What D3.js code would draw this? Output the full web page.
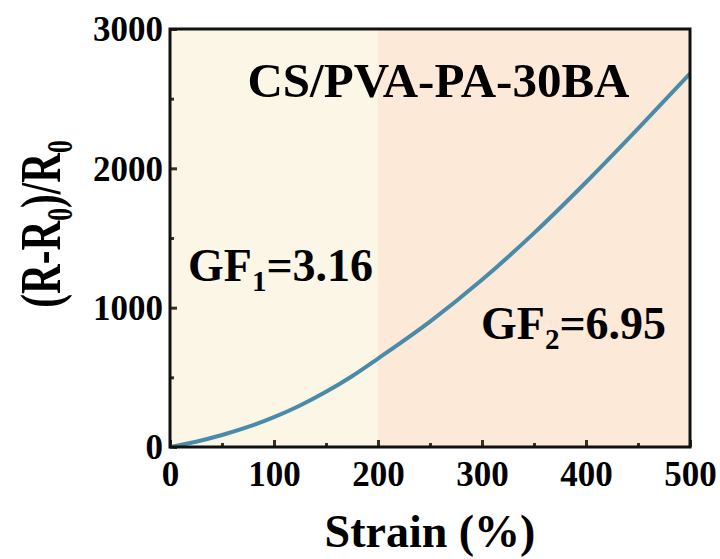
<!DOCTYPE html>
<html>
<head>
<meta charset="utf-8">
<script src="https://cdn.jsdelivr.net/npm/d3@7"></script>
<style>
  body { margin: 0; background: #fff; }
  text { font-family: "Liberation Serif", "Times New Roman", serif; font-weight: bold; fill: #000; }
</style>
</head>
<body>
<div class="canvas"></div>
<script>
// strain (%) vs relative resistance change
const strain = [0, 25, 50, 75, 100, 125, 150, 175, 200, 250, 300, 350, 400, 450, 500];
const resist = [0, 38, 86, 144, 214, 298, 396, 508, 635, 900, 1200, 1535, 1900, 2285, 2680];
const xTicks = [0, 100, 200, 300, 400, 500];
const yTicks = [0, 1000, 2000, 3000];
const regions = [[0, 200], [200, 500]];
const regionColors = ['#fcf6e6', '#fde9d8'];

const W = 720, H = 559;
const m = { t: 29, r: 30, b: 112, l: 170 };

const svg = d3.select('.canvas').append('svg')
  .attr('width', W)
  .attr('height', H);

const x = d3.scaleLinear().domain([0, 500]).range([m.l, W - m.r]);
const y = d3.scaleLinear().domain([0, 3000]).range([H - m.b, m.t]);

//shaded regions
svg.append('g').selectAll('rect')
  .data(regions)
  .enter()
  .append('rect')
  .attr('x', d => x(d[0]))
  .attr('y', y(3000))
  .attr('width', d => x(d[1]) - x(d[0]))
  .attr('height', y(0) - y(3000))
  .style('fill', (d, i) => regionColors[i]);

//ticks, inward
const tickCol = '#3b2f22';
const xAxis = svg.append('g')
  .attr('transform', `translate(0,${y(0)})`)
  .call(d3.axisBottom(x).tickValues(xTicks).tickSize(-7).tickPadding(14).tickFormat(d3.format('d')));
const xMinor = svg.append('g')
  .attr('transform', `translate(0,${y(0)})`)
  .call(d3.axisBottom(x).tickValues([50, 150, 250, 350, 450]).tickSize(-4).tickFormat(''));
const yAxis = svg.append('g')
  .attr('transform', `translate(${x(0)},0)`)
  .call(d3.axisLeft(y).tickValues(yTicks).tickSize(-7).tickPadding(7).tickFormat(d3.format('d')));
const yMinor = svg.append('g')
  .attr('transform', `translate(${x(0)},0)`)
  .call(d3.axisLeft(y).tickValues([500, 1500, 2500]).tickSize(-4).tickFormat(''));

[xAxis, xMinor, yAxis, yMinor].forEach(a => {
  a.select('.domain').remove();
  a.selectAll('line').style('stroke', tickCol).style('stroke-width', 3);
});
[xAxis, yAxis].forEach(a => {
  a.selectAll('text').style('font-size', '35px').style('font-family', '"Liberation Serif", serif').style('font-weight', 'bold').style('fill', '#000');
});
xAxis.selectAll('text').attr('dy', '0.71em');
yAxis.selectAll('text').attr('dy', '0.34em');

//curve
const line = d3.line()
  .x((d, i) => x(strain[i]))
  .y(d => y(d))
  .curve(d3.curveMonotoneX);

svg.append('path')
  .datum(resist)
  .attr('d', line)
  .style('fill', 'none')
  .style('stroke', '#4a8baa')
  .style('stroke-width', 4);

//frame
svg.append('rect')
  .attr('x', x(0))
  .attr('y', y(3000))
  .attr('width', x(500) - x(0))
  .attr('height', y(0) - y(3000))
  .style('fill', 'none')
  .style('stroke', '#111')
  .style('stroke-width', 3);

//annotations
svg.append('text')
  .attr('x', 438.5)
  .attr('y', 97)
  .attr('text-anchor', 'middle')
  .style('font-size', '49px')
  .text('CS/PVA-PA-30BA');

function gfLabel(xp, yp, sub, val) {
  const t = svg.append('text')
    .attr('x', xp)
    .attr('y', yp)
    .style('font-size', '46px');
  t.append('tspan').text('GF');
  t.append('tspan').attr('dy', 10).style('font-size', '29px').text(sub);
  t.append('tspan').attr('dy', -10).text('=' + val);
}
gfLabel(188, 281, '1', '3.16');
gfLabel(481, 339, '2', '6.95');

//axis titles
svg.append('text')
  .attr('x', (x(0) + x(500)) / 2)
  .attr('y', 547)
  .attr('text-anchor', 'middle')
  .style('font-size', '46px')
  .text('Strain (%)');

// y title is squeezed along its length in the original
const yt = svg.append('text')
  .attr('transform', `translate(60,224) rotate(-90) scale(0.71,1)`)
  .attr('text-anchor', 'middle')
  .style('font-size', '58px');
yt.append('tspan').text('(R-R');
yt.append('tspan').attr('dy', 12).style('font-size', '36px').text('0');
yt.append('tspan').attr('dy', -12).text(')/R');
yt.append('tspan').attr('dy', 12).style('font-size', '36px').text('0');
</script>
</body>
</html>
